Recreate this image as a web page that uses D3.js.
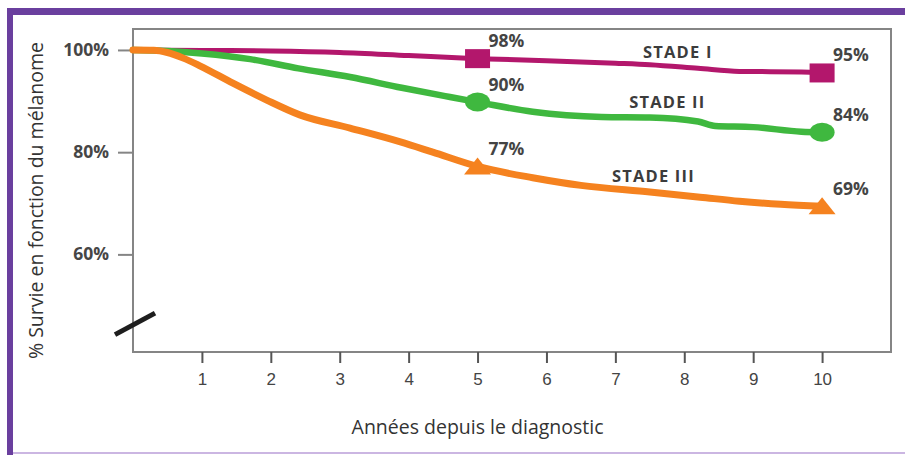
<!DOCTYPE html>
<html>
<head>
<meta charset="utf-8">
<script src="https://cdn.jsdelivr.net/npm/d3@7"></script>
<style>
  html, body { margin: 0; padding: 0; background: #fff; }
  svg { display: block; }
</style>
</head>
<body>
<script>
// ---- data ----
const years = [1, 2, 3, 4, 5, 6, 7, 8, 9, 10];
const yTicks = [60, 80, 100];
const stageNames = ["STADE I", "STADE II", "STADE III"];
const stageColors = ["#b3176c", "#3fb83f", "#f5821f"];
const stageMarkers = ["square", "circle", "triangle"];

const stage1T = [0, 1, 2, 3, 4, 5, 6, 7, 7.5, 8.2, 8.8, 9.7, 10];
const stage1V = [100, 99.9, 99.8, 99.5, 98.9, 98.3, 97.9, 97.4, 97.1, 96.4, 95.8, 95.7, 95.5];
const stage2T = [0, 0.5, 1, 1.7, 2.4, 3.15, 3.9, 4.6, 5, 5.8, 6.8, 7.5, 8.2, 8.45, 9, 9.7, 10];
const stage2V = [100, 99.8, 99.3, 98.2, 96.4, 94.7, 92.6, 90.8, 89.8, 87.9, 86.9, 86.8, 86.0, 85.1, 84.9, 84.0, 83.9];
const stage3T = [0, 0.3, 0.5, 0.73, 0.97, 1.45, 1.94, 2.42, 3.15, 3.88, 4.35, 5, 5.8, 6.5, 7.5, 8.23, 8.8, 9.4, 10];
const stage3V = [100, 99.95, 99.5, 98.4, 96.9, 93.5, 90.2, 87.3, 84.7, 82.0, 80.0, 77.2, 75.0, 73.5, 72.2, 71.2, 70.4, 69.8, 69.4];

const markerYears = [5, 10];
const markerLabels = [["98%", "95%"], ["90%", "84%"], ["77%", "69%"]];
const stageLabelT = [7.4, 7.2, 6.95];
const stageLabelV = [98.4, 88.6, 74.1];

const xTitle = "Années depuis le diagnostic";
const yTitle = "% Survie en fonction du mélanome";

// ---- chart ----
const W = 905, H = 455;
const svg = d3.select("body").append("svg").attr("width", W).attr("height", H);

// frame
svg.append("rect").attr("x", 7).attr("y", 8).attr("width", W - 7).attr("height", 7).attr("fill", "#6a3f9e");
svg.append("rect").attr("x", 7).attr("y", 8).attr("width", 6).attr("height", H - 8).attr("fill", "#6a3f9e");
svg.append("rect").attr("x", 13).attr("y", 452).attr("width", W - 13).attr("height", 2).attr("fill", "#cbb6e2");

const x = d3.scaleLinear().domain([0, 11]).range([133, 891]);
const y = d3.scaleLinear().domain([40.9, 104.1]).range([352, 29]);

// plot box
svg.append("rect")
  .attr("x", x(0)).attr("y", y(104.1))
  .attr("width", x(11) - x(0)).attr("height", y(40.9) - y(104.1))
  .attr("fill", "none").attr("stroke", "#858585").attr("stroke-width", 2);

// axes
const yAxis = svg.append("g").attr("transform", `translate(${x(0)},0)`)
  .call(d3.axisLeft(y).tickValues(yTicks).tickSize(15).tickPadding(9).tickFormat(d => d + "%"));
yAxis.select(".domain").remove();
yAxis.selectAll(".tick line").attr("stroke", "#858585").attr("stroke-width", 2);
yAxis.selectAll(".tick text")
  .attr("font-family", "Open Sans").attr("font-weight", "bold").attr("font-size", 17.5)
  .attr("fill", "#464646");

const xAxis = svg.append("g").attr("transform", `translate(0,${y(40.9)})`)
  .call(d3.axisBottom(x).tickValues(years).tickSize(11).tickPadding(10).tickFormat(d3.format("d")));
xAxis.select(".domain").remove();
xAxis.selectAll(".tick line").attr("stroke", "#555").attr("stroke-width", 2);
xAxis.selectAll(".tick text")
  .attr("font-family", "Liberation Sans").attr("font-size", 17)
  .attr("fill", "#444");

// axis break
svg.append("line")
  .attr("x1", x(0) - 18).attr("y1", y(44.3))
  .attr("x2", x(0) + 22).attr("y2", y(48.5))
  .attr("stroke", "#1e1e1e").attr("stroke-width", 5);

// titles
svg.append("text").attr("x", x(5)).attr("y", 434)
  .attr("text-anchor", "middle").attr("font-family", "Open Sans").attr("font-size", 19.5)
  .attr("fill", "#333").text(xTitle);
svg.append("text").attr("transform", `translate(43,${(y(104.1) + y(40.9)) / 2 + 10}) rotate(-90)`)
  .attr("text-anchor", "middle").attr("font-family", "Open Sans").attr("font-size", 19.5)
  .attr("fill", "#333").text(yTitle);

// series
const series = [
  stage1T.map((t, i) => [t, stage1V[i]]),
  stage2T.map((t, i) => [t, stage2V[i]]),
  stage3T.map((t, i) => [t, stage3V[i]])
];
const widths = [5, 6.5, 7];
const line = d3.line().x(d => x(d[0])).y(d => y(d[1])).curve(d3.curveMonotoneX);

function valueAt(s, t) {
  const pts = series[s];
  for (let i = 1; i < pts.length; i++) {
    if (t <= pts[i][0]) {
      const a = pts[i - 1], b = pts[i];
      return a[1] + (b[1] - a[1]) * (t - a[0]) / (b[0] - a[0]);
    }
  }
  return pts[pts.length - 1][1];
}

series.forEach((pts, s) => {
  svg.append("path").datum(pts).attr("d", line)
    .attr("fill", "none").attr("stroke", stageColors[s])
    .attr("stroke-width", widths[s]).attr("stroke-linejoin", "round").attr("stroke-linecap", "round");
});

series.forEach((pts, s) => {
  markerYears.forEach((t, k) => {
    const cx = x(t), cy = y(valueAt(s, t));
    if (stageMarkers[s] === "square") {
      svg.append("rect").attr("x", cx - 12.5).attr("y", cy - 9.5).attr("width", 25).attr("height", 19)
        .attr("fill", stageColors[s]);
    } else if (stageMarkers[s] === "circle") {
      svg.append("ellipse").attr("cx", cx).attr("cy", cy).attr("rx", 12.5).attr("ry", 9.5)
        .attr("fill", stageColors[s]);
    } else {
      svg.append("path")
        .attr("d", `M${cx},${cy - 9}L${cx + 13.5},${cy + 8}L${cx - 13.5},${cy + 8}Z`)
        .attr("fill", stageColors[s]);
    }
    svg.append("text").attr("x", cx + 11).attr("y", cy - 11.5)
      .attr("font-family", "Open Sans").attr("font-weight", "bold").attr("font-size", 17.5)
      .attr("fill", "#444").text(markerLabels[s][k]);
  });
  svg.append("text").attr("x", x(stageLabelT[s])).attr("y", y(stageLabelV[s]))
    .attr("font-family", "Open Sans").attr("font-weight", "bold").attr("font-size", 16.5)
    .attr("letter-spacing", 1.2).attr("fill", "#3c3c3c").text(stageNames[s]);
});
</script>
</body>
</html>
